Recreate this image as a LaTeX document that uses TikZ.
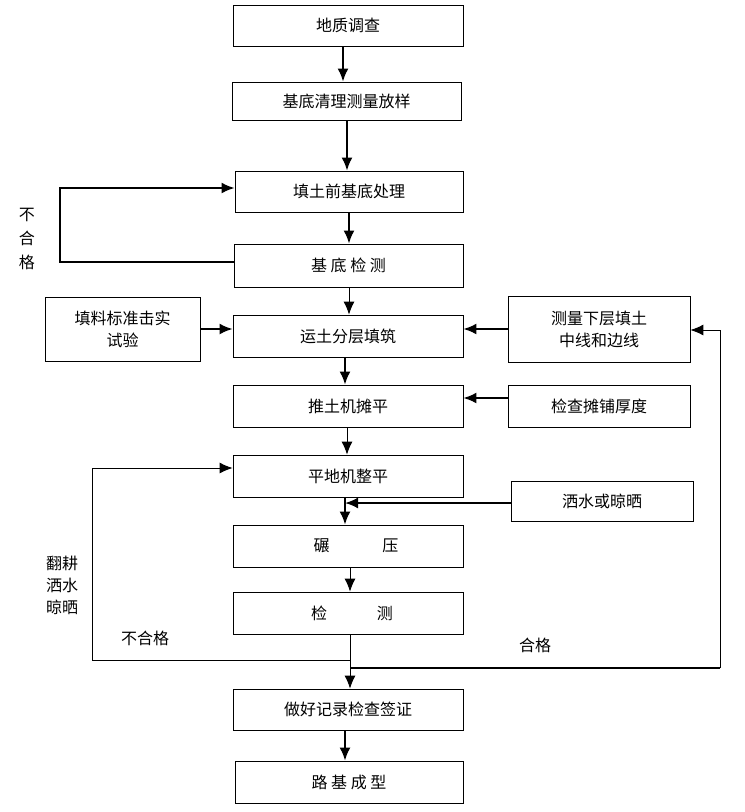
\documentclass[tikz,border=0pt]{standalone}
\usepackage{fontspec}
\setmainfont{Noto Sans CJK SC}
\usetikzlibrary{arrows.meta}
\usetikzlibrary{positioning}

\begin{document}
\begin{tikzpicture}[x=1pt,y=-1pt,>={Latex[length=13pt,width=11pt]},
		step box/.style={rectangle,draw,line width=0.8pt,align=center,minimum width=230pt,minimum height=42pt,inner sep=2pt,font=\fontsize{16}{22}\selectfont},
		side box/.style={step box,minimum width=182pt},
		thick line/.style={line width=2pt},
		thin line/.style={line width=0.9pt},
		note/.style={align=center,font=\fontsize{16}{24}\selectfont}]

		\useasboundingbox (0,0) rectangle (745,812);

		\node[step box,minimum height=41pt] at (348,25.5) (geo) {地质调查};
		\node[step box,minimum width=229pt,minimum height=38pt] at (346.5,101) (clean) {基底清理测量放样};
		\node[step box,minimum width=228pt,minimum height=41pt] at (349,191.5) (treat) {填土前基底处理};
		\node[step box,minimum width=229pt,minimum height=43pt] at (348.5,265.5) (basecheck) {基\ 底\ 检\ 测};
		\node[step box,minimum width=155pt,minimum height=64pt] at (122.5,329) (proctor) {填料标准击实\\试验};
		\node[step box] at (348,336) (fill) {运土分层填筑};
		\node[side box,minimum height=66pt] at (599,329) (survey) {测量下层填土\\中线和边线};
		\node[step box] at (348,406) (doze) {推土机摊平};
		\node[side box] at (599,406) (depth) {检查摊铺厚度};
		\node[step box] at (348,476) (grade) {平地机整平};
		\node[side box,minimum height=40pt] at (602,501) (water) {洒水或晾晒};
		\node[step box] at (348,546) (roll) {\hspace*{16pt}碾\hspace{3.3em}压};
		\node[step box] at (348,613) (check) {\hspace*{8pt}检\hspace{3.1em}测};
		\node[step box,minimum height=41pt] at (348,709.5) (record) {做好记录检查签证};
		\node[step box,minimum width=228pt] at (349,782) (done) {路\ 基\ 成\ 型};

		\node[note] at (27,239) (fail1) {不\\合\\格};
		\node[note,font=\fontsize{16}{22}\selectfont] at (62,585) (rework) {翻耕\\洒水\\晾晒};
		\node[note] at (145,638) (fail2) {不合格};
		\node[note] at (535,645) (pass) {合格};

		\coordinate (mid) at (345,503);
		\coordinate (split) at (350,660);
		\coordinate (passturn) at (350,668);

		% main column
		\draw[->,thick line] (geo.south -| 343,0) -- (clean.north -| 343,0);
		\draw[->,thick line] (clean.south -| 347,0) -- (treat.north -| 347,0);
		\draw[->,thick line] (treat.south -| 349,0) -- (basecheck.north -| 349,0);
		\draw[->,thin line] (basecheck.south -| 349,0) -- (fill.north -| 349,0);
		\draw[->,thick line] (fill.south -| 345,0) -- (doze.north -| 345,0);
		\draw[->,thin line] (doze.south -| 347,0) -- (grade.north -| 347,0);
		\draw[->,thick line] (grade.south -| 345,0) -- (roll.north -| 345,0);
		\draw[->,thin line] (roll.south -| 350,0) -- (check.north -| 350,0);
		\draw[->,thin line] (check.south -| 350,0) -- (record.north -| 350,0);
		\draw[->,thick line] (record.south -| 345,0) -- (done.north -| 345,0);

		% side inputs
		\draw[->,thick line] (proctor.east |- 0,329) -- (fill.west |- 0,329);
		\draw[->,thick line] (survey.west |- 0,329) -- (fill.east |- 0,329);
		\draw[->,thick line] (depth.west |- 0,398) -- (doze.east |- 0,398);
		\draw[->,thick line] (water.west |- mid) -- (mid);

		% loops
		\draw[->,thick line] (basecheck.west |- 0,262) -- (60,262) -- (60,188) -- (treat.west |- 0,188);
		\draw[->,thin line] (split) -- (92,660) -- (92,468) -- (grade.west |- 0,468);
		\draw[thick line] (passturn) -- (720,668);
		\draw[->,thin line] (720,668) -- (720,330) -- (survey.east |- 0,330);

		\end{tikzpicture}
\end{document}
